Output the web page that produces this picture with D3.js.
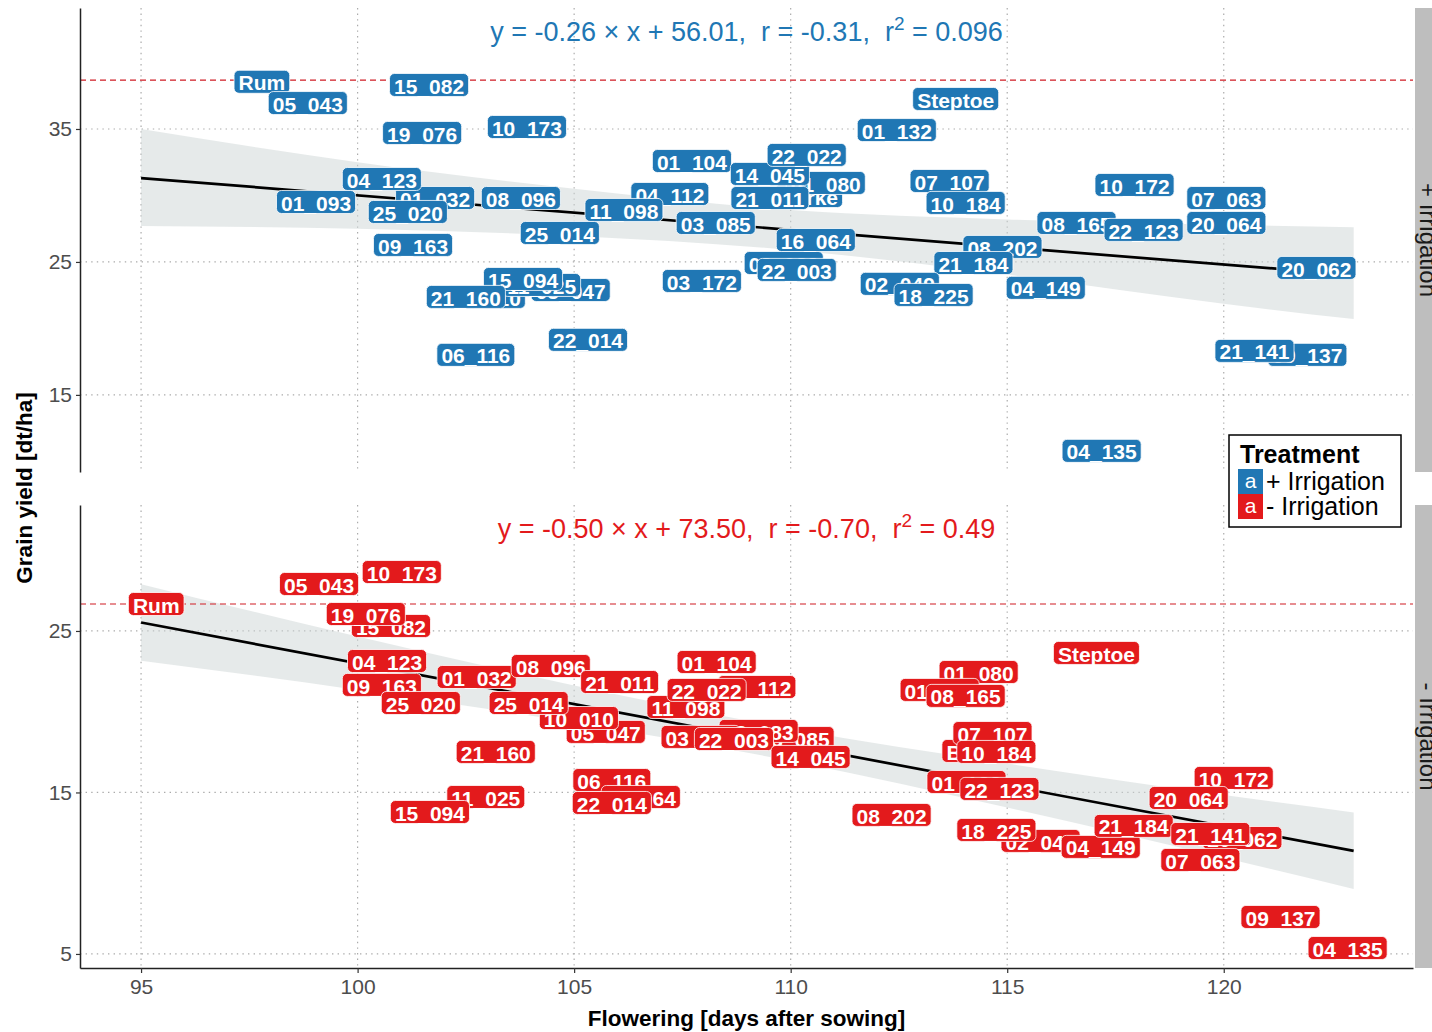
<!DOCTYPE html>
<html>
<head>
<meta charset="utf-8">
<script src="https://cdn.jsdelivr.net/npm/d3@7/dist/d3.min.js"></script>
<style>
  body { margin: 0; background: #fff; }
  text { font-family: "Liberation Sans", Arial, sans-serif; }
</style>
</head>
<body>
<div id="chart"></div>
<script>
// ---- data ----
const xTicks = [95, 100, 105, 110, 115, 120];
const panelNames = ['+ Irrigation', '- Irrigation'];
const yTicksWet = [15, 25, 35];
const yTicksDry = [5, 15, 25];

// yield of the reference cultivar Rum (dashed line)
const refYield = [38.68, 26.67];

// linear fit (drawn from 95 to 123 days)
const fitRange = [95, 123];
const fitSlope = [-0.26, -0.505];
const fitIntercept = [56.01, 73.5];
const eqMain = ['y = -0.26 \u00d7 x + 56.01,  r = -0.31,  r', 'y = -0.50 \u00d7 x + 73.50,  r = -0.70,  r'];
const eqR2 = ['0.096', '0.49'];

// confidence band of the fit
const bandX = [95, 100, 105, 110, 115, 120, 123];
const bandUpWet = [35.0, 32.5, 30.5, 28.9, 28.2, 27.8, 27.6];
const bandLoWet = [27.7, 27.5, 26.95, 25.9, 24.05, 21.85, 20.7];
const bandUpDry = [27.9, 24.65, 21.63, 18.95, 16.79, 14.84, 13.76];
const bandLoDry = [23.16, 21.35, 19.33, 16.95, 14.07, 10.96, 9.02];

// + Irrigation: genotype, flowering (days), grain yield (dt/ha)  (drawing order)
const wetNames = ['Rum', '15_082', '05_043', 'Steptoe', '19_076', '10_173', '01_132', '01_104',
  'Barke', '01_080', '14_045', '22_022', '21_011', '04_112', '11_098', '03_085', '07_107', '10_184',
  '10_172', '07_063', '20_064', '01_032', '04_123', '01_093', '25_020', '08_096', '25_014', '09_163',
  '02_083', '16_064', '08_165', '22_123', '08_202', '21_184', '22_003', '03_172', '02_049', '18_225',
  '04_149', '20_062', '10_010', '05_047', '11_025', '15_094', '21_160', '22_014', '06_116', '09_137',
  '21_141', '04_135'];
const wetFlower = [97.79, 101.65, 98.85, 113.81, 101.49, 103.91, 112.45, 107.72,
  110.42, 110.81, 109.52, 110.37, 109.52, 107.21, 106.15, 108.27, 113.67, 114.04,
  117.94, 120.06, 120.06, 101.79, 100.56, 99.04, 101.16, 103.77, 104.67, 101.28,
  109.84, 110.58, 116.60, 118.15, 114.89, 114.22, 110.14, 107.95, 112.52, 113.30,
  115.89, 122.14, 102.96, 104.92, 104.25, 103.82, 102.50, 105.32, 102.73, 121.93,
  120.71, 117.18];
const wetYield = [38.55, 38.31, 36.95, 37.26, 34.70, 35.15, 34.92, 32.59,
  29.96, 30.94, 31.62, 33.05, 29.81, 30.11, 28.91, 27.93, 31.09, 29.44,
  30.79, 29.81, 27.93, 29.81, 31.24, 29.51, 28.76, 29.81, 27.18, 26.28,
  24.92, 26.65, 27.93, 27.41, 26.13, 24.92, 24.40, 23.57, 23.35, 22.52,
  23.05, 24.55, 22.37, 22.89, 23.27, 23.72, 22.37, 19.14, 18.01, 18.01,
  18.31, 10.79];

// - Irrigation
const dryNames = ['Rum', '05_043', '10_173', '15_082', '19_076', '04_123', '09_163', '25_020',
  '01_032', '08_096', '21_011', '05_047', '10_010', '25_014', '21_160', '11_025', '15_094', '04_112',
  '01_104', '11_098', '22_022', '03_085', '02_083', '03_172', '22_003', '14_045', '06_116', '16_064',
  '22_014', 'Steptoe', '01_080', '01_093', '08_165', 'Barke', '07_107', '10_184', '01_132', '22_123',
  '08_202', '02_049', '18_225', '04_149', '10_172', '20_064', '21_184', '20_062', '21_141', '07_063',
  '09_137', '04_135'];
const dryFlower = [95.35, 99.11, 101.02, 100.77, 100.19, 100.68, 100.56, 101.46,
  102.75, 104.46, 106.05, 105.73, 105.11, 103.95, 103.19, 102.96, 101.67, 109.22,
  108.29, 107.58, 108.06, 110.09, 109.26, 107.92, 108.69, 110.46, 105.87, 106.54,
  105.87, 117.06, 114.34, 113.44, 114.04, 114.27, 114.66, 114.75, 114.06, 114.82,
  112.33, 115.77, 114.75, 117.16, 120.23, 119.19, 117.92, 120.43, 119.69, 119.46,
  121.31, 122.86];
const dryYield = [26.67, 27.91, 28.65, 25.31, 26.05, 23.14, 21.66, 20.54,
  22.15, 22.83, 21.84, 18.75, 19.61, 20.54, 17.51, 14.72, 13.79, 21.53,
  23.08, 20.29, 21.35, 18.37, 18.81, 18.44, 18.31, 17.20, 15.77, 14.72,
  14.35, 23.64, 22.46, 21.35, 20.98, 17.57, 18.68, 17.51, 15.65, 15.22,
  13.61, 12.0, 12.68, 11.63, 15.90, 14.66, 12.93, 12.18, 12.43, 10.82,
  7.29, 5.37];

const colors = ['#2077b4', '#e31a1c'];

// ---- layout ----
const W = 1432, H = 1032;
const left = 80, right = 1413;
const panels = [{ top: 8, bottom: 472 }, { top: 505, bottom: 968 }];
const yDomains = [[9.2, 44.1], [4.13, 32.8]];

const svg = d3.select('#chart').append('svg')
  .attr('width', W)
  .attr('height', H);

const x = d3.scaleLinear().domain([93.59, 124.37]).range([left, right]);

const yTicks = [yTicksWet, yTicksDry];
const bands = [[bandUpWet, bandLoWet], [bandUpDry, bandLoDry]];
const labelSets = [
  wetNames.map((n, i) => ({ name: n, x: wetFlower[i], y: wetYield[i] })),
  dryNames.map((n, i) => ({ name: n, x: dryFlower[i], y: dryYield[i] }))
];

panels.forEach((p, k) => {
  const y = d3.scaleLinear().domain(yDomains[k]).range([p.bottom, p.top]);
  const g = svg.append('g').attr('class', 'panel');

  // grid
  g.selectAll('.vgrid').data(xTicks).enter().append('line')
    .attr('x1', d => x(d)).attr('x2', d => x(d))
    .attr('y1', p.top).attr('y2', p.bottom)
    .attr('stroke', '#ababab').attr('stroke-width', 1.2)
    .attr('stroke-dasharray', '1.4,4.2');
  g.selectAll('.hgrid').data(yTicks[k]).enter().append('line')
    .attr('x1', left).attr('x2', right)
    .attr('y1', d => y(d)).attr('y2', d => y(d))
    .attr('stroke', '#ababab').attr('stroke-width', 1.2)
    .attr('stroke-dasharray', '1.4,4.2');

  // confidence band
  const bandData = bandX.map((v, i) => ({ x: v, hi: bands[k][0][i], lo: bands[k][1][i] }));
  g.append('path')
    .datum(bandData)
    .attr('d', d3.area()
      .x(d => x(d.x)).y0(d => y(d.lo)).y1(d => y(d.hi))
      .curve(d3.curveMonotoneX))
    .attr('fill', '#cdd6d6')
    .attr('fill-opacity', 0.5);

  // fit line
  g.append('path')
    .datum(fitRange)
    .attr('d', d3.line().x(d => x(d)).y(d => y(fitSlope[k] * d + fitIntercept[k])))
    .attr('stroke', '#000').attr('stroke-width', 2.7).attr('fill', 'none');

  // reference line (Rum)
  g.append('line')
    .attr('x1', left).attr('x2', right)
    .attr('y1', y(refYield[k])).attr('y2', y(refYield[k]))
    .attr('stroke', '#d01c24').attr('stroke-width', 1.2)
    .attr('stroke-dasharray', '6,4');

  // labels
  const lab = g.selectAll('.lab').data(labelSets[k]).enter().append('g')
    .attr('class', 'lab')
    .attr('transform', d => `translate(${x(d.x)},${y(d.y)})`);
  lab.append('rect');
  lab.append('text')
    .attr('text-anchor', 'middle')
    .attr('y', 8.6)
    .attr('fill', '#fff')
    .style('font-size', '21px')
    .style('font-weight', 'bold')
    .text(d => d.name);
  lab.each(function () {
    const t = d3.select(this).select('text').node();
    const w = t.getComputedTextLength() + 9;
    d3.select(this).select('rect')
      .attr('x', -w / 2).attr('y', -11.5)
      .attr('width', w).attr('height', 23)
      .attr('rx', 5).attr('ry', 5)
      .attr('fill', colors[k])
      .attr('stroke', '#fff').attr('stroke-width', 0.8);
  });

  // equation
  const eq = g.append('text')
    .attr('x', (left + right) / 2)
    .attr('y', p.top + 33)
    .attr('text-anchor', 'middle')
    .attr('fill', colors[k])
    .style('font-size', '27px')
    .style('white-space', 'pre');
  eq.append('tspan').text(eqMain[k]);
  eq.append('tspan').attr('dy', -11).style('font-size', '19px').text('2');
  eq.append('tspan').attr('dy', 11).text(' = ' + eqR2[k]);

  // left axis
  const ax = g.append('g')
    .attr('transform', `translate(${left},0)`)
    .call(d3.axisLeft(y).tickValues(yTicks[k]).tickSize(4).tickPadding(4).tickSizeOuter(0));
  ax.select('.domain').attr('stroke', '#222').attr('stroke-width', 1.5);
  ax.selectAll('.tick line').attr('stroke', '#333').attr('stroke-width', 1.2);
  ax.selectAll('.tick text').attr('fill', '#4d4d4d').style('font-size', '21px')
    .style('font-family', '"Liberation Sans", Arial, sans-serif');

  // facet strip (cut at the right edge as in the source)
  g.append('rect')
    .attr('x', 1415).attr('y', p.top)
    .attr('width', 40).attr('height', p.bottom - p.top)
    .attr('fill', '#bebebe');
  g.append('text')
    .attr('transform', `translate(1420,${(p.top + p.bottom) / 2}) rotate(90)`)
    .attr('text-anchor', 'middle')
    .attr('fill', '#1a1a1a')
    .style('font-size', '24px')
    .text(panelNames[k]);
});

// bottom x axis
const xa = svg.append('g')
  .attr('transform', `translate(0,${panels[1].bottom})`)
  .call(d3.axisBottom(x).tickValues(xTicks).tickSize(5).tickPadding(6).tickSizeOuter(0));
xa.select('.domain').attr('stroke', '#222').attr('stroke-width', 1.5);
xa.selectAll('.tick line').attr('stroke', '#333').attr('stroke-width', 1.2);
xa.selectAll('.tick text').attr('fill', '#4d4d4d').style('font-size', '21px')
  .style('font-family', '"Liberation Sans", Arial, sans-serif');

// axis titles
svg.append('text')
  .attr('x', (left + right) / 2).attr('y', 1026)
  .attr('text-anchor', 'middle')
  .style('font-size', '22.5px').style('font-weight', 'bold')
  .text('Flowering [days after sowing]');
svg.append('text')
  .attr('transform', `translate(32,488) rotate(-90)`)
  .attr('text-anchor', 'middle')
  .style('font-size', '22.5px').style('font-weight', 'bold')
  .text('Grain yield [dt/ha]');

// legend
const leg = svg.append('g').attr('transform', 'translate(1229,435)');
leg.append('rect').attr('width', 172).attr('height', 92)
  .attr('fill', '#fff').attr('stroke', '#000').attr('stroke-width', 1.5);
leg.append('text').attr('x', 11).attr('y', 28)
  .style('font-size', '25px').style('font-weight', 'bold').text('Treatment');
const li = leg.selectAll('.item').data(panelNames).enter().append('g')
  .attr('transform', (d, i) => `translate(9,${34 + i * 25})`);
li.append('rect').attr('width', 25).attr('height', 25).attr('fill', (d, i) => colors[i]);
li.append('text').attr('x', 12.5).attr('y', 19).attr('text-anchor', 'middle')
  .attr('fill', '#fff').style('font-size', '21px').text('a');
li.append('text').attr('x', 28).attr('y', 21)
  .style('font-size', '25px').text(d => d);
</script>
</body>
</html>
